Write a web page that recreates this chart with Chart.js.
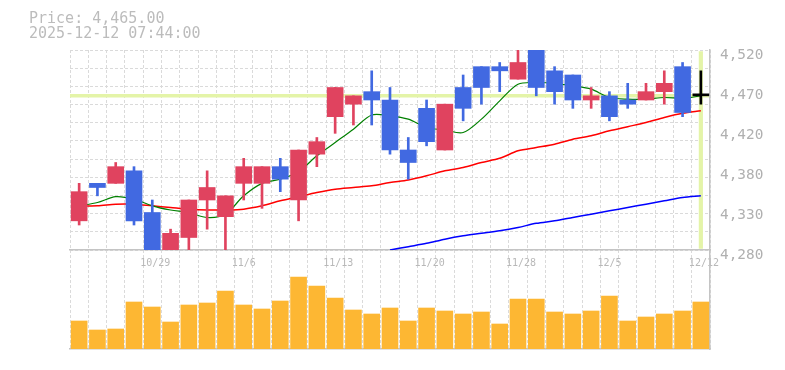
<!DOCTYPE html>
<html lang="en">
<head>
<meta charset="UTF-8">
<title>Price chart</title>
<script src="https://cdn.jsdelivr.net/npm/chart.js"></script>
<style>
  body { margin: 0; background: #fff; }
  #chart { display: block; }
</style>
</head>
<body>
<canvas id="chart" width="785" height="370"></canvas>
<script>
// trading days shown on the chart
const dates = ['10/23', '10/24', '10/27', '10/28', '10/29', '10/30', '10/31', '11/4', '11/5', '11/6',
    '11/7', '11/10', '11/11', '11/12', '11/13', '11/14', '11/17', '11/18', '11/19', '11/20',
    '11/21', '11/25', '11/26', '11/27', '11/28', '12/1', '12/2', '12/3', '12/4', '12/5',
    '12/8', '12/9', '12/10', '12/11', '12/12'];
const xTickLabels = ['10/29', '11/6', '11/13', '11/20', '11/28', '12/5', '12/12'];

const open  = [4315, 4360, 4360, 4375, 4325, 4270, 4295, 4340, 4320, 4360, 4360, 4380, 4340, 4395, 4440, 4455, 4470, 4460, 4400, 4450,
               4400, 4475, 4500, 4500, 4485, 4530, 4495, 4490, 4460, 4465, 4460, 4460, 4470, 4500, 4465];
const close = [4350, 4355, 4380, 4315, 4268, 4300, 4340, 4355, 4345, 4380, 4380, 4365, 4400, 4410, 4475, 4465, 4460, 4400, 4385, 4410,
               4455, 4450, 4475, 4495, 4505, 4475, 4470, 4460, 4465, 4440, 4455, 4470, 4480, 4445, 4465];
const high  = [4360, 4360, 4385, 4380, 4340, 4305, 4340, 4375, 4345, 4390, 4380, 4390, 4400, 4415, 4475, 4465, 4495, 4475, 4415, 4460,
               4455, 4490, 4500, 4505, 4525, 4530, 4500, 4490, 4475, 4470, 4480, 4480, 4495, 4505, 4495];
const low   = [4310, 4345, 4360, 4310, 4262, 4262, 4276, 4305, 4278, 4340, 4330, 4350, 4315, 4380, 4420, 4430, 4430, 4395, 4365, 4405,
               4400, 4435, 4455, 4470, 4485, 4465, 4455, 4450, 4450, 4435, 4450, 4460, 4455, 4440, 4455];

// moving averages (5 / 25 / 75 days)
const ma5  = [4333, 4337, 4344, 4341, 4333, 4328, 4325, 4319, 4323, 4345, 4360, 4365, 4374, 4393, 4409, 4425, 4442, 4441, 4437, 4427,
              4424, 4421, 4437, 4459, 4479, 4481, 4480, 4477, 4473, 4463, 4461, 4461, 4463, 4462, 4465];
const ma25 = [4333, 4333, 4335, 4335, 4333, 4331, 4329, 4328, 4328, 4329, 4333, 4339, 4344, 4349, 4353, 4355, 4357, 4361, 4364, 4369,
              4375, 4379, 4385, 4390, 4399, 4403, 4407, 4413, 4417, 4423, 4428, 4433, 4439, 4444, 4447];
const ma75 = [null, null, null, null, null, null, null, null, null, null, null, null, null, null, null, null, null, 4280, 4284, 4288,
              4293, 4297, 4300, 4303, 4307, 4312, 4315, 4319, 4323, 4327, 4331, 4335, 4339, 4343, 4345];

const volume = [280, 190, 200, 470, 420, 270, 440, 460, 580, 440, 400, 480, 720, 630, 510, 390, 350, 410, 280, 410,
                380, 350, 370, 250, 500, 500, 370, 350, 380, 530, 280, 320, 350, 380, 470];
const volumeMax = 990;

const priceLabels = ['4,280', '4,330', '4,380', '4,420', '4,470', '4,520'];
const priceMin = 4280;
const priceMax = 4520;
const currentPrice = 4465;
const quoteTime = '2025-12-12 07:44:00';
const cursorRange = [4282, 4518];

const MONO = "'DejaVu Sans Mono', 'Liberation Mono', monospace";
const UP = '#e0435f', DOWN = '#4169e1', FLAT = '#000000';
const GRID = '#dadada', AXIS = '#c4c4c4', MARK = '#e4f4a8';

const candleColors = open.map((o, i) => close[i] > o ? UP : (close[i] < o ? DOWN : FLAT));
const last = dates.length - 1;

function buildPriceTicks() {
    const ticks = [];
    const span = priceMax - priceMin;
    for (let i = 0; i <= 11; i++) {
        ticks.push({ value: priceMin + span * i / 11, kind: 'grid' });
    }
    priceLabels.forEach((t, i) => {
        ticks.push({ value: priceMin + span * i / (priceLabels.length - 1), kind: 'label', text: t });
    });
    ticks.push({ value: currentPrice, kind: 'price' });
    return ticks.sort((a, b) => a.value - b.value);
}

// keep each dataset inside its own stacked axis
const axisClip = {
    id: 'axisClip',
    beforeDatasetDraw(chart, args) {
        const ds = chart.data.datasets[args.index];
        const s = chart.scales[ds.yAxisID];
        const a = chart.chartArea;
        chart.ctx.save();
        chart.ctx.beginPath();
        chart.ctx.rect(a.left, s.top, a.right - a.left, s.bottom - s.top);
        chart.ctx.clip();
    },
    afterDatasetDraw(chart) {
        chart.ctx.restore();
    }
};

new Chart('chart', {
    type: 'bar',
    data: {
        labels: dates,
        datasets: [
            {
                label: 'body',
                data: open.map((o, i) => [o, close[i]]),
                backgroundColor: candleColors,
                barThickness: 16,
                minBarLength: 2,
                grouped: false,
                yAxisID: 'y',
                order: 0
            },
            {
                label: 'wick',
                data: low.map((l, i) => [l, high[i]]),
                backgroundColor: candleColors,
                barThickness: 2,
                grouped: false,
                yAxisID: 'y',
                order: 1
            },
            {
                type: 'line', label: 'MA5', data: ma5,
                borderColor: '#008000', borderWidth: 1.2, pointRadius: 0, tension: 0.3,
                yAxisID: 'y', order: 2
            },
            {
                type: 'line', label: 'MA25', data: ma25,
                borderColor: '#ff0000', borderWidth: 1.5, pointRadius: 0, tension: 0.3,
                yAxisID: 'y', order: 2
            },
            {
                type: 'line', label: 'MA75', data: ma75,
                borderColor: '#0000ff', borderWidth: 1.5, pointRadius: 0, tension: 0.3,
                yAxisID: 'y', order: 2
            },
            {
                label: 'cursor',
                data: dates.map((d, i) => i === last ? cursorRange : null),
                backgroundColor: MARK,
                barThickness: 3.5,
                grouped: false,
                yAxisID: 'y',
                order: 3
            },
            {
                label: 'volume',
                data: volume,
                backgroundColor: '#fdb733',
                barThickness: 16,
                grouped: false,
                yAxisID: 'yv',
                order: 4
            }
        ]
    },
    options: {
        responsive: false,
        animation: false,
        events: [],
        layout: { padding: { left: 29, right: 0, top: 0, bottom: 0 } },
        plugins: {
            legend: { display: false },
            tooltip: { enabled: false },
            title: {
                display: true,
                align: 'start',
                text: ['Price: ' + currentPrice.toLocaleString('en-US', { minimumFractionDigits: 2 }), quoteTime],
                color: '#bcbcbc',
                font: { family: MONO, size: 15, weight: 'normal', lineHeight: '15px' },
                padding: { top: 12, bottom: 8 }
            }
        },
        scales: {
            x: {
                type: 'category',
                position: { y: priceMin },
                offset: true,
                grid: { offset: true, color: GRID, drawTicks: false },
                border: { color: AXIS, width: 1.5, dash: [3, 2] },
                ticks: {
                    autoSkip: false,
                    maxRotation: 0,
                    align: 'start',
                    labelOffset: -12,
                    padding: 7,
                    color: '#b8b8b8',
                    font: { family: MONO, size: 10 },
                    callback: (v, i) => xTickLabels.includes(dates[i]) ? dates[i] : ''
                }
            },
            xb: {
                type: 'category',
                position: 'bottom',
                grid: { display: false },
                border: { color: AXIS, width: 1.5 },
                ticks: { display: false },
                afterFit: s => { s.height = 21; }
            },
            y: {
                type: 'linear',
                position: 'right',
                stack: 'main',
                stackWeight: 200,
                min: priceMin,
                max: priceMax,
                afterBuildTicks: s => { s.ticks = buildPriceTicks(); },
                afterFit: s => { s.width = 75; },
                grid: {
                    drawTicks: false,
                    color: ctx => {
                        const k = ctx.tick && ctx.tick.kind;
                        return k === 'price' ? MARK : (k === 'grid' ? GRID : 'rgba(0,0,0,0)');
                    },
                    lineWidth: ctx => (ctx.tick && ctx.tick.kind === 'price') ? 3.5 : 1
                },
                border: {
                    color: AXIS,
                    width: 1.5,
                    dash: ctx => (ctx.tick && ctx.tick.kind === 'price') ? [] : [3, 2]
                },
                ticks: {
                    autoSkip: false,
                    padding: 10,
                    labelOffset: 5,
                    color: '#b0b0b0',
                    font: { family: MONO, size: 14.4 },
                    callback: (v, i, t) => t[i].text || ''
                }
            },
            yv: {
                type: 'linear',
                position: 'right',
                stack: 'main',
                stackWeight: 99,
                min: 0,
                max: volumeMax,
                grid: { display: false },
                border: { color: AXIS, width: 1.5 },
                ticks: { display: false }
            },
            yl: {
                type: 'linear',
                position: 'left',
                grid: { display: false },
                border: { display: false },
                ticks: { display: false },
                afterFit: s => { s.width = 41; }
            }
        }
    },
    plugins: [axisClip]
});
</script>
</body>
</html>
